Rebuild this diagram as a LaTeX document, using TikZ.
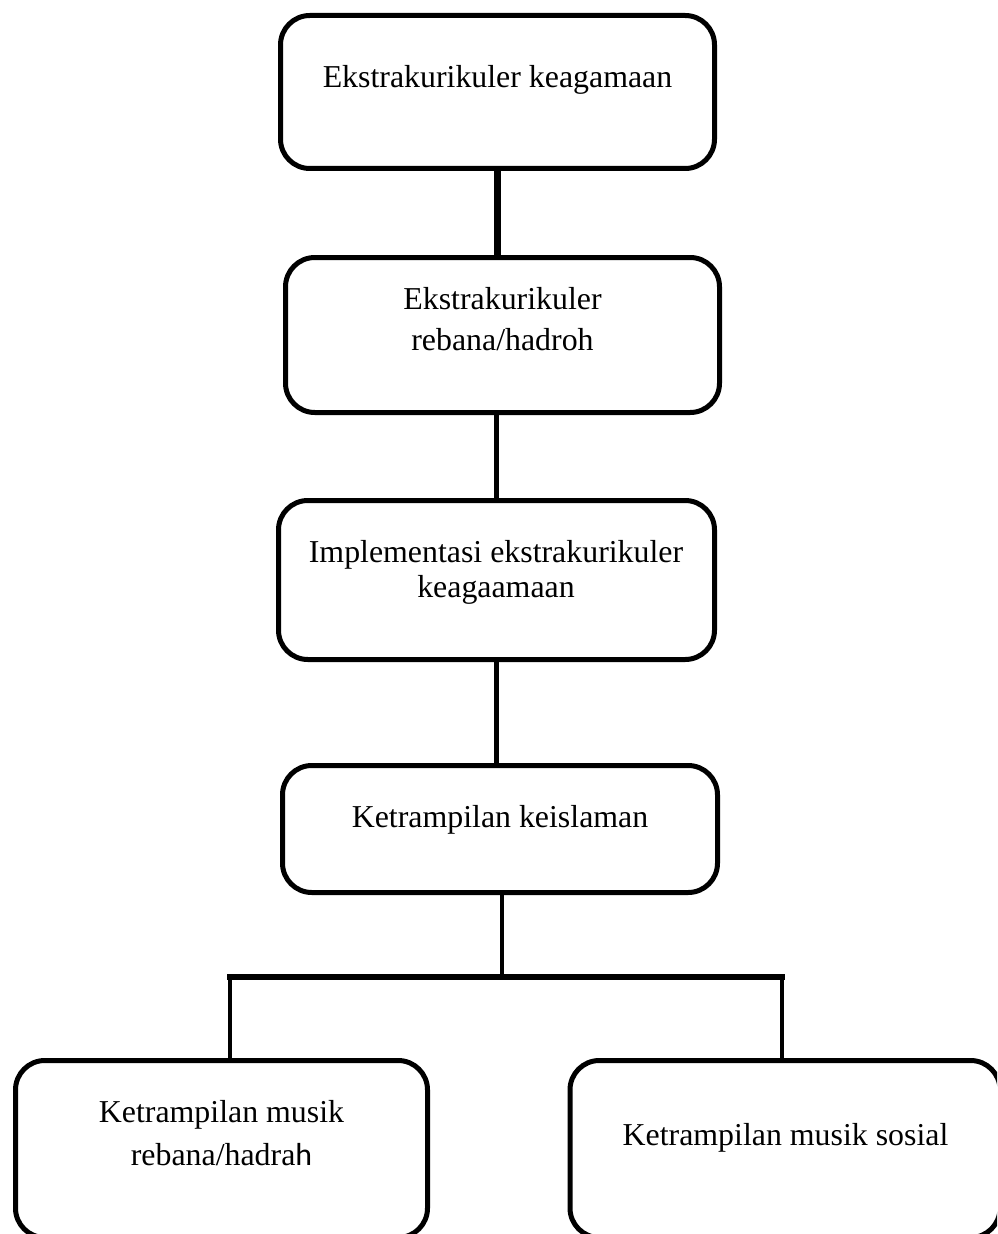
\documentclass[tikz,border=0pt]{standalone}
\usepackage{fontspec}
\setmainfont{Liberation Serif}
\newfontfamily\sansh{Carlito}
\begin{document}
\begin{tikzpicture}[x=0.75pt,y=-0.75pt,
  box/.style={draw=black, line width=3.75pt, rounded corners=22pt, fill=white, inner sep=0pt},
  conn/.style={draw=black, line width=3.6pt},
  thickconn/.style={draw=black, line width=5pt},
  lbl/.style={anchor=base, inner sep=0pt, font=\fontsize{23.9pt}{31pt}\selectfont}]
\useasboundingbox (0,0) rectangle (997,1234);
\clip (0,0) rectangle (997,1234);
% boxes
\node[box, minimum width=434*0.75pt, minimum height=153*0.75pt] (b1) at (497.5,92) {};
\node[box, minimum width=434*0.75pt, minimum height=155*0.75pt] (b2) at (502.5,335) {};
\node[box, minimum width=436*0.75pt, minimum height=159*0.75pt] (b3) at (496.5,580) {};
\node[box, minimum width=435*0.75pt, minimum height=127*0.75pt] (b4) at (500,829) {};
\node[box, minimum width=412*0.75pt, minimum height=177*0.75pt] (b5) at (221.5,1149) {};
\node[box, minimum width=430*0.75pt, minimum height=177*0.75pt] (b6) at (785,1149) {};
% connectors
\coordinate (j) at (502,977);
\coordinate (jl) at (230,977);
\coordinate (jr) at (782,977);
\draw[thickconn] (b1.south) -- (b1.south |- b2.north);
\draw[conn] (b3.north) -- (b3.north |- b2.south);
\draw[conn] (b3.south) -- (b3.south |- b4.north);
\draw[conn] (b4.south -| j) -- (j);
\draw[conn, line width=4pt, line cap=rect] (jl) -- (jr);
\draw[conn] (jl) -- (jl |- b5.north);
\draw[conn] (jr) -- (jr |- b6.north);
% labels
\node[lbl] (t1) at (497.5,88) {Ekstrakurikuler keagamaan};
\node[lbl] (t2a) at (502.5,309) {Ekstrakurikuler};
\node[lbl] (t2b) at (502.5,350) {rebana/hadroh};
\node[lbl] (t3a) at (496,562) {Implementasi ekstrakurikuler};
\node[lbl] (t3b) at (496,597) {keagaamaan};
\node[lbl] (t4) at (500,827) {Ketrampilan keislaman};
\node[lbl] (t5a) at (221.5,1122) {Ketrampilan musik};
\node[lbl] (t5b) at (221.5,1165) {rebana/hadra{\sansh h}};
\node[lbl] (t6) at (785.5,1145) {Ketrampilan musik sosial};
\end{tikzpicture}
\end{document}
